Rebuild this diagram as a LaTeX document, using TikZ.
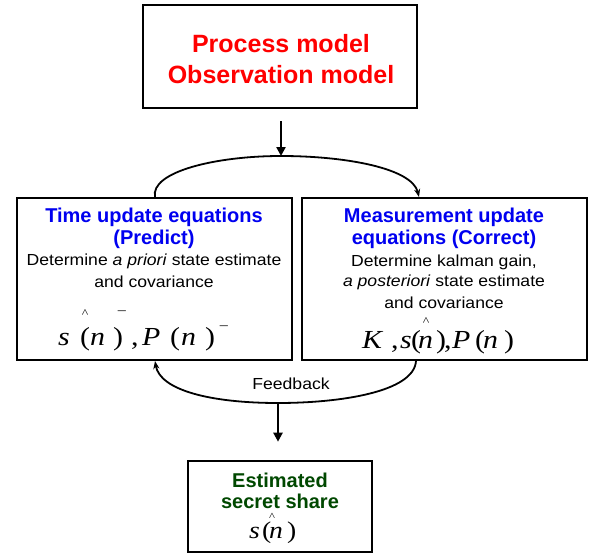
\documentclass[tikz,border=0pt]{standalone}
\usepackage{fontspec}
\setmainfont{Liberation Sans}
\newfontfamily\bodyfont[FakeStretch=1.1]{Liberation Sans}
\newfontfamily\tms[FakeStretch=1.15]{Liberation Serif}
\usetikzlibrary{arrows.meta}
\definecolor{tblue}{RGB}{0,0,240}
\definecolor{tred}{RGB}{255,0,0}
\definecolor{tgreen}{RGB}{0,72,0}
\begin{document}
\begin{tikzpicture}[x=1pt,y=-1pt,
  box/.style={draw=black,line width=2.6pt,fill=white,inner sep=0pt},
  ttl/.style={font=\fontsize{20}{20}\selectfont\bfseries,text=tblue,inner sep=0pt,anchor=center},
  txt/.style={font=\bodyfont\fontsize{16}{16}\selectfont,inner sep=0pt,anchor=center},
  gl/.style={font=\tms\fontsize{26}{26}\selectfont\itshape,inner sep=0pt,anchor=base west},
  gu/.style={font=\tms\fontsize{26}{26}\selectfont,inner sep=0pt,anchor=base west},
  hat/.style={font=\tms\fontsize{12}{12}\selectfont,inner sep=0pt,anchor=center},
  arc/.style={line width=1.8pt,-{Stealth[length=8pt,width=6pt]}},
  bigarrow/.style={line width=2.4pt,-{Triangle[length=9pt,width=9pt]}}]
\useasboundingbox (0,0) rectangle (590,554);
% boxes
\node[box,minimum width=274pt,minimum height=103pt] (top) at (280,56.5) {};
\node[box,minimum width=275pt,minimum height=162pt] (left) at (154.5,279) {};
\node[box,minimum width=285pt,minimum height=162pt] (right) at (444.5,279) {};
\node[box,minimum width=184pt,minimum height=91pt] (bot) at (280,506.5) {};
% top text
\node[inner sep=0pt,font=\fontsize{25}{25}\selectfont\bfseries,text=tred] (t1) at (281,44) {Process model};
\node[inner sep=0pt,font=\fontsize{25}{25}\selectfont\bfseries,text=tred] (t2) at (281,75) {Observation model};
% left text
\node[ttl] (l1) at (154,217) {Time update equations};
\node[ttl] (l2) at (154,239) {(Predict)};
\node[txt] (l3) at (154,261) {Determine \textit{a priori} state estimate};
\node[txt] (l4) at (154,282) {and covariance};
\node[gl] (lm1) at (58,345) {s};
\node[gu] (lm2) at (80,345) {(};
\node[gl] (lm3) at (90,345) {n};
\node[gu] (lm4) at (113,345) {)};
\node[hat] (lh1) at (85,314) {\textasciicircum};
\node[hat,font=\tms\fontsize{14}{14}\selectfont] (lh2) at (122,313) {\textendash};
\node[gu] (lm5) at (131,345) {,};
\node[gl] (lm6) at (142,345) {P};
\node[gu] (lm7) at (170,345) {(};
\node[gl] (lm8) at (181,345) {n};
\node[gu] (lm9) at (205,345) {)};
\node[hat,font=\tms\fontsize{14}{14}\selectfont] (lh3) at (224,328) {\textendash};
% right text
\node[ttl] (r1) at (444,217) {Measurement update};
\node[ttl] (r2) at (444,239) {equations (Correct)};
\node[txt] (r3) at (444,262) {Determine kalman gain,};
\node[txt] (r4) at (444,282) {\textit{a posteriori} state estimate};
\node[txt] (r5) at (444,303) {and covariance};
\node[gl] (rm1) at (362,348) {K};
\node[gu] (rm2) at (391,348) {,};
\node[gl] (rm3) at (400,348) {s};
\node[gu] (rm4) at (411,348) {(};
\node[gl] (rm5) at (418,348) {n};
\node[gu] (rm6) at (436,348) {)};
\node[gu] (rm6b) at (444,348) {,};
\node[gl] (rm7) at (452,348) {P};
\node[gu] (rm8) at (475,348) {(};
\node[gl] (rm9) at (483,348) {n};
\node[gu] (rm10) at (504,348) {)};
\node[hat] (rh) at (426,322) {\textasciicircum};
% bottom text
\node[ttl,text=tgreen] (b1) at (280,480) {Estimated};
\node[ttl,text=tgreen] (b2) at (280,501) {secret share};
\node[hat,font=\tms\fontsize{11}{11}\selectfont,text height=3pt,text depth=0pt,anchor=base] (bh) at (272,520) {\textasciicircum};
\node[gl,font=\tms\fontsize{24}{24}\selectfont\itshape] (bm1) at (249,538) {s};
\node[gu,font=\tms\fontsize{24}{24}\selectfont] (bm2) at (262,538) {(};
\node[gl,font=\tms\fontsize{24}{24}\selectfont\itshape] (bm3) at (269,538) {n};
\node[gu,font=\tms\fontsize{24}{24}\selectfont] (bm4) at (287,538) {)};
% connectors
\coordinate (atop) at (281,156);
\coordinate (abot) at (278,403);
\coordinate (ltop) at (155,197);
\coordinate (rtop) at (419,197);
\coordinate (rbot) at (416,361);
\coordinate (lbot) at (155,361);
\node[txt] (fb) at (291,384) {Feedback};
\draw[bigarrow] (top.south -| atop) ++(0,12) -- (atop);
\draw[arc] (ltop) .. controls (150,172) and (215,156) .. (atop)
  .. controls (345,156) and (412,168) .. (rtop);
\draw[arc] (rbot) .. controls (414,392) and (340,403) .. (abot)
  .. controls (210,403) and (160,390) .. (lbot);
\draw[bigarrow] (abot) -- ([yshift=18pt]bot.north -| abot);
\end{tikzpicture}
\end{document}
